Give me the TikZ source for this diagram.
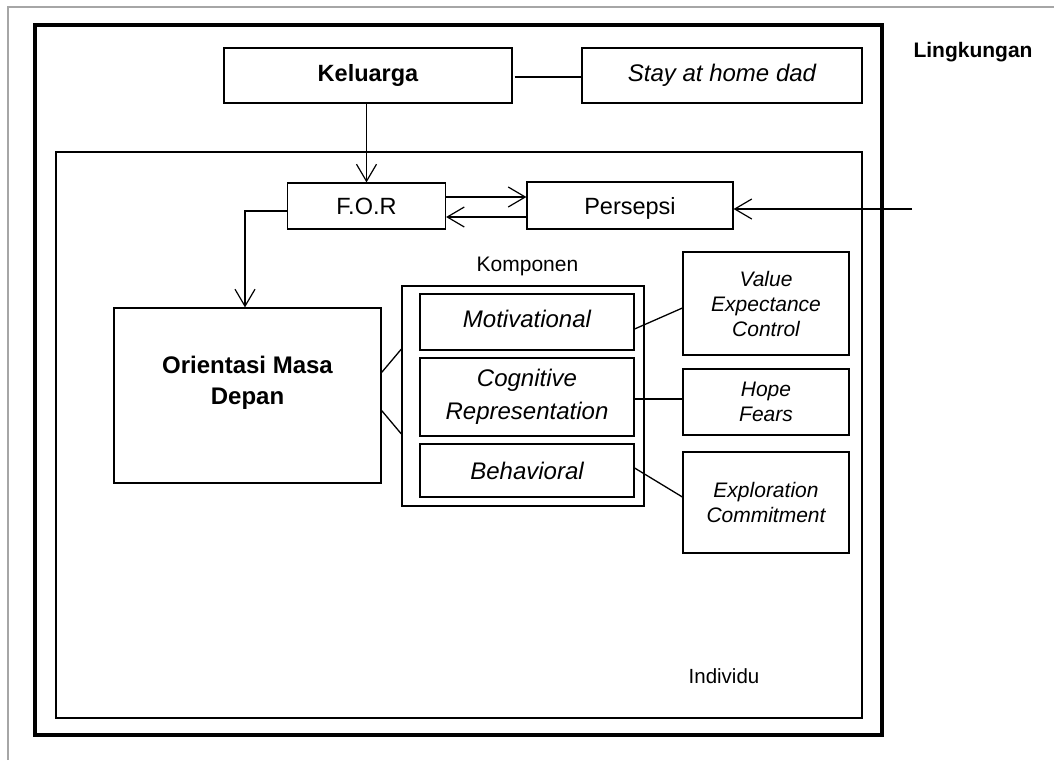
\documentclass[tikz,border=0pt]{standalone}
\usepackage{fontspec}
\setmainfont{Liberation Sans}
\usetikzlibrary{arrows.meta}
\begin{document}
\begin{tikzpicture}[x=1pt,y=-1pt,
  box/.style={draw=black,line width=1.2pt,rectangle,inner sep=0pt,align=center},
  conn/.style={line width=1.3pt},
  arr/.style={line width=1.2pt,-{Straight Barb[length=17pt,width=20pt,line width=1.2pt]}},
  lbl/.style={inner sep=0pt}]
\useasboundingbox (0,0) rectangle (1054,760);
\fill[white] (0,0) rectangle (1054,760);
% frames
\draw[gray!70,line width=1.2pt] (8,760) -- (8,7) -- (1054,7);
\draw[line width=4.5pt] (35,25) rectangle (882,735);
\draw[line width=1.5pt] (56,152) rectangle (862,718);
\node[lbl,font=\bfseries\fontsize{21}{25}\selectfont] (ling) at (973,52) {Lingkungan};
\node[lbl,font=\fontsize{20.5}{25}\selectfont] (indiv) at (724,676) {Individu};
% top boxes
\node[box,minimum width=288pt,minimum height=55pt,font=\bfseries\fontsize{23.5}{28}\selectfont] (kel) at (368,75.5) {Keluarga};
\node[box,minimum width=280pt,minimum height=55pt,font=\itshape\fontsize{24}{28}\selectfont] (stay) at (722,75.5) {Stay at home dad};
\draw[conn] ([xshift=2pt,yshift=-1.5pt]kel.east) -- ([yshift=-1.5pt]stay.west);
% FOR and Persepsi
\node[box,minimum width=158pt,minimum height=46pt,font=\fontsize{23.5}{28}\selectfont] (for) at (366.5,206) {F.O.R};
\node[box,minimum width=206pt,minimum height=47pt,text depth=0pt,font=\fontsize{23.5}{28}\selectfont] (pers) at (630,205.5) {Persepsi};
\draw[arr] (kel.south -| for.north) -- (for.north);
\draw[arr] ([yshift=9pt]for.east) -- ([yshift=8.5pt]pers.west);
\draw[arr] ([yshift=-11.5pt]pers.west) -- ([yshift=-11pt]for.east);
\coordinate (ext) at (912,209);
\draw[arr] (ext) -- (pers.east |- ext);
% Orientasi
\node[box,minimum width=267pt,minimum height=175pt] (om) at (247.5,395.5) {};
\node[lbl,font=\bfseries\fontsize{24}{31}\selectfont,align=center] (omt) at (247.5,383) {Orientasi Masa\\Depan};
\coordinate (corner) at (245,211);
\draw[arr] (for.west |- corner) -- (corner) -- (corner |- om.north);
% Komponen
\node[lbl,font=\fontsize{21}{25}\selectfont] (komp) at (527.5,266) {Komponen};
\node[box,minimum width=242pt,minimum height=220pt] (kbox) at (523,396) {};
\node[box,minimum width=214pt,minimum height=56pt,text depth=6pt,font=\itshape\fontsize{24}{28}\selectfont] (mot) at (527,322) {Motivational};
\node[box,minimum width=214pt,minimum height=78pt,font=\itshape\fontsize{24}{33}\selectfont] (cog) at (527,397) {Cognitive\\Representation};
\node[box,minimum width=214pt,minimum height=53pt,font=\itshape\fontsize{24}{28}\selectfont] (beh) at (527,470.5) {Behavioral};
\draw[conn] ([yshift=23pt]om.east) -- ([yshift=47pt]kbox.west);
\draw[conn] ([yshift=-15pt]om.east) -- ([yshift=-38pt]kbox.west);
% right boxes
\node[box,minimum width=166pt,minimum height=103pt,font=\itshape\fontsize{21}{25}\selectfont] (vec) at (766,303.5) {Value\\Expectance\\Control};
\node[box,minimum width=166pt,minimum height=66pt,font=\itshape\fontsize{21}{25}\selectfont] (hf) at (766,402) {Hope\\Fears};
\node[box,minimum width=166pt,minimum height=101pt,font=\itshape\fontsize{21}{25}\selectfont] (ec) at (766,502.5) {Exploration\\Commitment};
\draw[conn] ([yshift=-7pt]mot.east) -- ([yshift=-4.5pt]vec.west);
\draw[conn] ([yshift=-2pt]cog.east) -- ([yshift=3pt]hf.west);
\draw[conn] ([yshift=2.5pt]beh.east) -- ([yshift=5.5pt]ec.west);
\end{tikzpicture}
\end{document}
